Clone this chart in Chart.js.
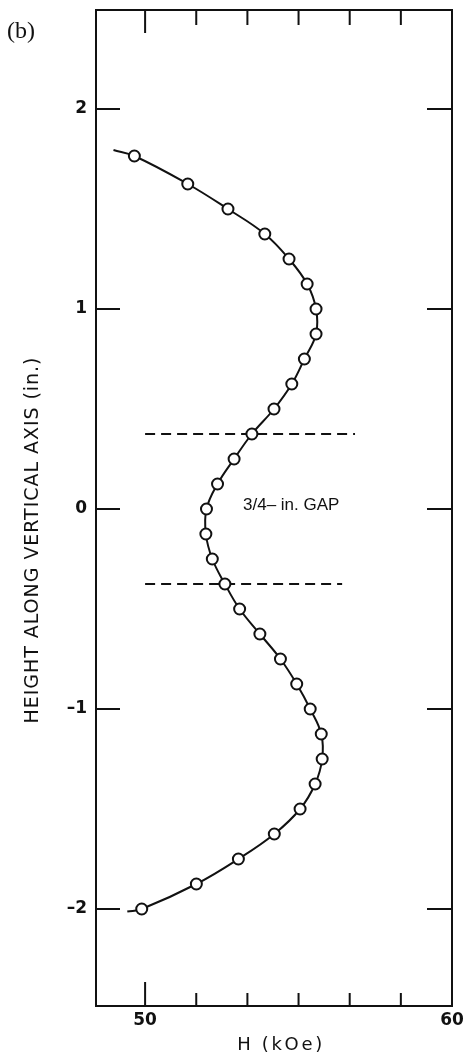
<!DOCTYPE html>
<html>
<head>
<meta charset="utf-8">
<script src="https://cdn.jsdelivr.net/npm/chart.js@4.4.0/dist/chart.umd.min.js"></script>
<style>
  html, body { margin: 0; padding: 0; background: #fff; }
  #wrap { width: 466px; height: 1053px; position: relative; }
</style>
</head>
<body>
<div id="wrap"><canvas id="c"></canvas></div>
<script>
// ---- data ----
const heights = [1.765, 1.625, 1.5, 1.375, 1.25, 1.125, 1.0, 0.875, 0.75, 0.625, 0.5, 0.375, 0.25, 0.125,
  0, -0.125, -0.25, -0.375, -0.5, -0.625, -0.75, -0.875, -1.0, -1.125, -1.25, -1.375, -1.5, -1.625, -1.75, -1.875, -2.0];
const fieldKOe = [49.65, 51.39, 52.70, 53.90, 54.69, 55.28, 55.57, 55.57, 55.19, 54.78, 54.20, 53.48, 52.90, 52.36,
  52.0, 51.98, 52.19, 52.60, 53.08, 53.74, 54.41, 54.94, 55.38, 55.74, 55.77, 55.54, 55.05, 54.21, 53.04, 51.67, 49.89];
// smooth fitted curve: same points plus its drawn ends
const curveStartH = 48.97, curveStartY = 1.795;
const curveEndH = 49.42, curveEndY = -2.013;
// gap boundaries (3/4 in. gap)
const gapY = [0.375, -0.375];
const gapLineStartH = [50, 50];
const gapLineEndH = [56.84, 56.42];
const gapLabel = '3/4\u2013 in. GAP';
const gapLabelH = 53.19, gapLabelY = 0.02;
// ticks
const xTickValues = [50, 50 + 5/3, 50 + 10/3, 55, 50 + 20/3, 50 + 25/3, 60];
const xTickLabels = ['50', '', '', '', '', '', '60'];
const yTickValues = [-2, -1, 0, 1, 2];
const yTickLabels = ['\u20132', '\u20131', '0', '1', '2'];
const xTitle = 'H (kOe)';
const yTitle = 'HEIGHT ALONG VERTICAL AXIS (in.)';
const panelLabel = '(b)';

const pts = heights.map((y, i) => ({ x: fieldKOe[i], y }));
const curve = [{ x: curveStartH, y: curveStartY }, ...pts, { x: curveEndH, y: curveEndY }];
const gapLines = gapY.map((y, i) => ({
  type: 'line', data: [{ x: gapLineStartH[i], y }, { x: gapLineEndH[i], y }],
  borderColor: '#111', borderWidth: 1.8, borderDash: [10, 6], pointRadius: 0, showLine: true, tension: 0, order: 3
}));

const frameAndTicks = {
  id: 'frameAndTicks',
  afterDatasetsDraw(chart) {
    const { ctx, chartArea: a, scales: { x, y } } = chart;
    ctx.save();
    ctx.strokeStyle = '#111';
    ctx.lineWidth = 2;
    ctx.strokeRect(a.left, a.top, a.right - a.left, a.bottom - a.top);
    ctx.beginPath();
    x.ticks.forEach(t => {
      const px = x.getPixelForValue(t.value);
      const major = Math.abs(t.value - 50) < 1e-6;
      const lb = major ? 24 : 13, lt = major ? 23 : 15;
      ctx.moveTo(px, a.bottom); ctx.lineTo(px, a.bottom - lb);
      ctx.moveTo(px, a.top); ctx.lineTo(px, a.top + lt);
    });
    y.ticks.forEach(t => {
      const py = y.getPixelForValue(t.value);
      ctx.moveTo(a.left, py); ctx.lineTo(a.left + 24, py);
      ctx.moveTo(a.right, py); ctx.lineTo(a.right - 25, py);
    });
    ctx.stroke();

    ctx.fillStyle = '#111';
    // gap label
    ctx.font = '17px "Liberation Sans", Arial, sans-serif';
    ctx.textAlign = 'left';
    ctx.textBaseline = 'middle';
    ctx.fillText(gapLabel, x.getPixelForValue(gapLabelH), y.getPixelForValue(gapLabelY));
    // panel label
    ctx.font = '24px "Liberation Serif", "Times New Roman", serif';
    ctx.fillText(panelLabel, 7, 32);
    // x title
    ctx.font = '18px "DejaVu Sans", sans-serif';
    ctx.textAlign = 'center';
    let w = ctx.measureText(xTitle).width;
    ctx.letterSpacing = Math.max(0, (85 - w) / (xTitle.length - 1)) + 'px';
    ctx.fillText(xTitle, 281, 1045);
    // y title
    ctx.letterSpacing = '0px';
    ctx.font = '19px "DejaVu Sans", sans-serif';
    w = ctx.measureText(yTitle).width;
    ctx.letterSpacing = ((366 - w) / (yTitle.length - 1)) + 'px';
    ctx.translate(33, 540);
    ctx.rotate(-Math.PI / 2);
    ctx.fillText(yTitle, 0, 0);
    ctx.restore();
  }
};

new Chart(document.getElementById('c'), {
  type: 'scatter',
  data: {
    datasets: [
      { type: 'scatter', data: pts, pointRadius: 5.5, pointHoverRadius: 5.5, pointBackgroundColor: '#fff',
        pointBorderColor: '#111', pointBorderWidth: 2, showLine: false, order: 1 },
      { type: 'line', data: curve, borderColor: '#111', borderWidth: 2, pointRadius: 0, tension: 0.4,
        showLine: true, fill: false, order: 2 },
      ...gapLines
    ]
  },
  options: {
    responsive: true, maintainAspectRatio: false, animation: false,
    layout: { padding: { left: 0, right: 14, top: 10, bottom: 0 } },
    plugins: { legend: { display: false }, tooltip: { enabled: false } },
    scales: {
      x: {
        type: 'linear', min: 48.4, max: 60,
        afterBuildTicks: s => { s.ticks = xTickValues.map(v => ({ value: v })); },
        afterFit: s => { s.height = 47; s.paddingLeft = 0; s.paddingRight = 0; },
        grid: { display: false, drawTicks: false },
        border: { display: false },
        ticks: {
          autoSkip: false, maxRotation: 0, padding: 4, color: '#111',
          font: { family: '"DejaVu Sans", sans-serif', size: 17, weight: 'bold' },
          callback: (v, i) => xTickLabels[i]
        }
      },
      y: {
        type: 'linear', min: -2.485, max: 2.495,
        afterBuildTicks: s => { s.ticks = yTickValues.map(v => ({ value: v })); },
        afterFit: s => { s.width = 96; s.paddingTop = 0; s.paddingBottom = 0; },
        grid: { display: false, drawTicks: false },
        border: { display: false },
        ticks: {
          autoSkip: false, padding: 9, color: '#111',
          font: { family: '"DejaVu Sans", sans-serif', size: 17, weight: 'bold' },
          callback: (v, i) => yTickLabels[i]
        }
      }
    }
  },
  plugins: [frameAndTicks]
});
</script>
</body>
</html>
